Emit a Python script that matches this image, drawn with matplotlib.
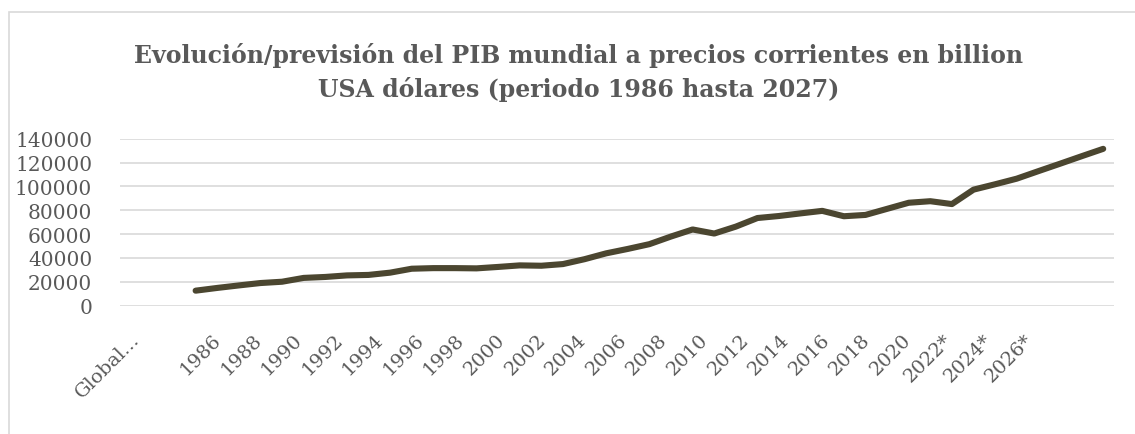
import numpy as np
import matplotlib.pyplot as plt
from matplotlib.patches import Rectangle

# Categorías del eje X (hoja de Excel: cabecera + dos filas vacías + años)
cabecera = ["Global...", "", ""]
anios = [str(a) for a in range(1985, 2022)] + ["2022*", "2023*", "2024*", "2025*", "2026*", "2027*"]

# PIB mundial (billion USD) 1985-2027
pib = [12600, 14900, 17000, 19000, 20100, 23300, 24100, 25400, 25800, 27700,
       31000, 31500, 31500, 31300, 32500, 33800, 33500, 34900, 39000, 43900,
       47600, 51600, 58000, 63900, 60500, 66300, 73500, 75200, 77400, 79500,
       75000, 76100, 81200, 86300, 87600, 85200, 97300, 101800, 106500, 112800,
       119000, 125300, 131500]

categorias = cabecera + anios
valores = [np.nan] * len(cabecera) + pib

gris = '#595959'
plt.rcParams['font.family'] = ['DejaVu Serif']

fig = plt.figure(figsize=(11.35, 4.35), dpi=100)
ax = fig.add_axes([120 / 1135, 1 - 306.7 / 435, 994 / 1135, 167 / 435])

x = np.arange(len(categorias))
ax.plot(x, valores, color='#4b4630', linewidth=4.4, solid_capstyle='round', solid_joinstyle='round')

ax.set_xlim(-0.5, len(categorias) - 0.5)
ax.set_ylim(0, 140000)
ax.set_yticks(np.arange(0, 140001, 20000))
ax.set_yticklabels([str(v) for v in range(0, 140001, 20000)])
ax.yaxis.grid(True, color='#d9d9d9', linewidth=1.2)
ax.set_axisbelow(True)
ax.set_xticks([])

# en el original las etiquetas rotadas quedan algo más juntas que la línea
esc, desp = 0.939, 0.287
eje_cat = ax.secondary_xaxis('bottom', functions=(lambda v: (v - desp) / esc, lambda s: desp + esc * s))
eje_cat.set_xticks(x[::2])
eje_cat.set_xticklabels(categorias[::2], rotation=45, ha='right', va='center', rotation_mode='anchor')
eje_cat.tick_params(axis='x', length=0, pad=22, labelsize=14, labelcolor=gris)
eje_cat.spines['bottom'].set_visible(False)

ax.tick_params(axis='y', length=0, pad=20, labelsize=14.5, labelcolor=gris)
for s in ax.spines.values():
    s.set_visible(False)

fig.text(0.51, 1 - 56 / 435, "Evolución/previsión del PIB mundial a precios corrientes en billion",
         ha='center', va='center', fontsize=17, fontweight='bold', color=gris)
fig.text(0.51, 1 - 89 / 435, "USA dólares (periodo 1986 hasta 2027)",
         ha='center', va='center', fontsize=17, fontweight='bold', color=gris)

# borde del área del gráfico
fig.patches.append(Rectangle((9 / 1135, -0.1), 1.2, 1 - 13 / 435 + 0.1, transform=fig.transFigure,
                             fill=False, edgecolor='#d9d9d9', linewidth=1.2))

fig.savefig('out.png', dpi=100)
